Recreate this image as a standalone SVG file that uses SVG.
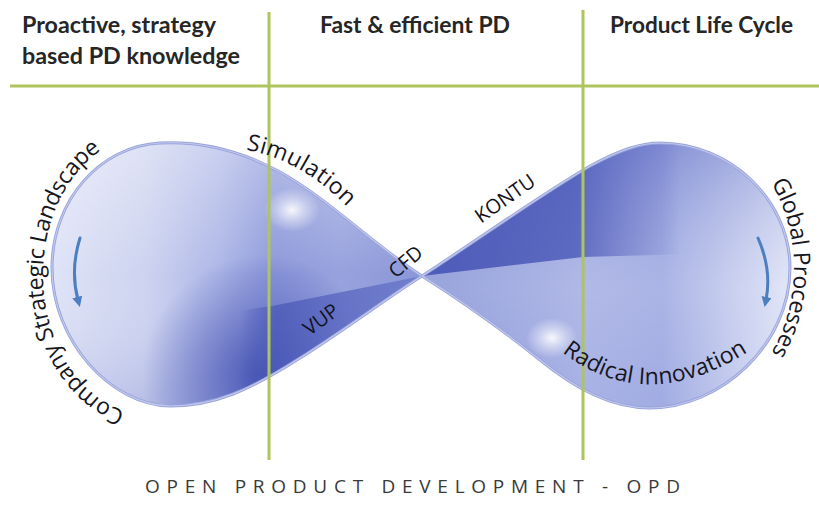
<svg xmlns="http://www.w3.org/2000/svg" width="819" height="508" viewBox="0 0 819 508">
  <defs>
    <style>
      .head { font-family: Lato, "Liberation Sans", sans-serif; font-weight: bold; font-size: 22px; fill: #262626; }
      .lbl { font-family: "Open Sans", "Liberation Sans", sans-serif; font-size: 23px; fill: #16161e; }
      .small { font-family: "Open Sans", "Liberation Sans", sans-serif; font-size: 20px; fill: #12121c; }
      .foot { font-family: "Open Sans", "Liberation Sans", sans-serif; font-size: 19px; fill: #3a3a3a; }
      .grid { stroke: #aec45f; stroke-width: 3; fill: none; }
      .rim { fill: none; stroke: #99a4dd; stroke-width: 3; stroke-linejoin: round; }
      .rimhi { fill: none; stroke: #ffffff; stroke-opacity: 0.4; stroke-width: 1.2; }
      .turn { fill: none; stroke: #4d7ec0; stroke-width: 3; stroke-linecap: round; marker-end: url(#head); }
    </style>
    <marker id="head" viewBox="0 0 10 10" refX="3" refY="5" markerWidth="3.4" markerHeight="3.4" orient="auto">
      <path d="M0 0 L10 5 L0 10 Z" fill="#4d7ec0"/>
    </marker>

    <!-- lobe outlines -->
    <path id="lobeL" d="M 422 276 C 370 242, 330 200, 280 172 C 240 150, 200 141, 160 143 C 100 146, 52 200, 52 268 C 52 340, 110 405, 170 406 C 215 406, 250 390, 300 358 C 340 333, 390 296, 422 276 Z"/>
    <path id="lobeR" d="M 422 276 C 470 245, 540 195, 590 166 C 620 150, 640 143, 660 143 C 730 143, 790 200, 790 268 C 790 345, 720 408, 650 408 C 610 408, 575 388, 540 360 C 500 328, 460 300, 422 276 Z"/>
    <clipPath id="clipL"><use href="#lobeL"/></clipPath>
    <clipPath id="clipR"><use href="#lobeR"/></clipPath>

    <linearGradient id="gL" gradientUnits="userSpaceOnUse" x1="52" y1="0" x2="422" y2="0">
      <stop offset="0" stop-color="#dfe3f7"/>
      <stop offset="0.25" stop-color="#cdd3f0"/>
      <stop offset="0.45" stop-color="#aeb7e7"/>
      <stop offset="0.6" stop-color="#8d99da"/>
      <stop offset="0.78" stop-color="#97a2dd"/>
      <stop offset="1" stop-color="#8a96d7"/>
    </linearGradient>
    <linearGradient id="gLv" gradientUnits="userSpaceOnUse" x1="0" y1="145" x2="0" y2="405">
      <stop offset="0" stop-color="#ffffff" stop-opacity="0.35"/>
      <stop offset="0.5" stop-color="#ffffff" stop-opacity="0"/>
      <stop offset="1" stop-color="#3b48a8" stop-opacity="0.15"/>
    </linearGradient>
    <radialGradient id="gLdark" gradientUnits="userSpaceOnUse" cx="262" cy="375" r="120">
      <stop offset="0" stop-color="#3c4aae" stop-opacity="0.85"/>
      <stop offset="0.5" stop-color="#4452b3" stop-opacity="0.45"/>
      <stop offset="1" stop-color="#4452b3" stop-opacity="0"/>
    </radialGradient>
    <linearGradient id="gVup" gradientUnits="userSpaceOnUse" x1="240" y1="0" x2="422" y2="0">
      <stop offset="0" stop-color="#4452b3" stop-opacity="0"/>
      <stop offset="0.2" stop-color="#4a58b7" stop-opacity="0.75"/>
      <stop offset="1" stop-color="#6d7bcc" stop-opacity="0.85"/>
    </linearGradient>
    <linearGradient id="gR" gradientUnits="userSpaceOnUse" x1="422" y1="0" x2="790" y2="0">
      <stop offset="0" stop-color="#8693d6"/>
      <stop offset="0.45" stop-color="#a3ade3"/>
      <stop offset="0.65" stop-color="#9ca7e1"/>
      <stop offset="1" stop-color="#dde2f6"/>
    </linearGradient>
    <linearGradient id="gRv" gradientUnits="userSpaceOnUse" x1="0" y1="145" x2="0" y2="408">
      <stop offset="0" stop-color="#4b59b9" stop-opacity="0.3"/>
      <stop offset="0.55" stop-color="#ffffff" stop-opacity="0.15"/>
      <stop offset="1" stop-color="#ffffff" stop-opacity="0.05"/>
    </linearGradient>
    <linearGradient id="gKontu" gradientUnits="userSpaceOnUse" x1="422" y1="0" x2="680" y2="0">
      <stop offset="0" stop-color="#4a58b8" stop-opacity="0.95"/>
      <stop offset="0.6" stop-color="#4a58b8" stop-opacity="0.8"/>
      <stop offset="1" stop-color="#4a58b8" stop-opacity="0"/>
    </linearGradient>
    <radialGradient id="shine">
      <stop offset="0" stop-color="#ffffff" stop-opacity="0.9"/>
      <stop offset="0.5" stop-color="#ffffff" stop-opacity="0.4"/>
      <stop offset="1" stop-color="#ffffff" stop-opacity="0"/>
    </radialGradient>

    <!-- label paths -->
    <path id="arcL" d="M 125 411 A 107 140 0 0 1 112 144"/>
    <path id="arcR" d="M 771 183 A 134 152 0 0 1 768 358"/>
    <path id="arcSim" d="M 246 150 Q 305 160 356 216"/>
    <path id="arcRad" d="M 562 352 Q 650 420 758 345"/>
  </defs>

  <rect width="819" height="508" fill="#ffffff"/>

  <!-- column headers -->
  <g id="header-knowledge">
    <text class="head" x="22" y="33" textLength="194" lengthAdjust="spacingAndGlyphs">Proactive, strategy</text>
    <text class="head" x="22" y="64" textLength="218" lengthAdjust="spacingAndGlyphs">based PD knowledge</text>
  </g>
  <g id="header-fast">
    <text class="head" x="320" y="33" textLength="190" lengthAdjust="spacingAndGlyphs">Fast &amp; efficient PD</text>
  </g>
  <g id="header-lifecycle">
    <text class="head" x="610" y="33" textLength="183" lengthAdjust="spacingAndGlyphs">Product Life Cycle</text>
  </g>

  <!-- left loop -->
  <g id="loop-left">
    <use href="#lobeL" fill="url(#gL)"/>
    <g clip-path="url(#clipL)">
      <rect x="40" y="130" width="390" height="290" fill="url(#gLv)"/>
      <rect x="40" y="130" width="390" height="290" fill="url(#gLdark)"/>
      <path d="M 422 276 L 272 306 L 230 312 L 230 420 L 430 420 Z" fill="url(#gVup)"/>
      <ellipse cx="292" cy="210" rx="28" ry="22" fill="url(#shine)"/>
    </g>
    <use href="#lobeL" class="rim"/>
    <use href="#lobeL" class="rimhi"/>
  </g>

  <!-- right loop -->
  <g id="loop-right">
    <use href="#lobeR" fill="url(#gR)"/>
    <g clip-path="url(#clipR)">
      <rect x="415" y="130" width="390" height="290" fill="url(#gRv)"/>
      <path d="M 422 276 L 583 257 L 690 254 L 690 130 L 420 130 Z" fill="url(#gKontu)"/>
      <ellipse cx="552" cy="338" rx="26" ry="20" fill="url(#shine)"/>
    </g>
    <use href="#lobeR" class="rim"/>
    <use href="#lobeR" class="rimhi"/>
  </g>

  <!-- phase dividers -->
  <g id="dividers">
    <line class="grid" x1="10" y1="86" x2="819" y2="86"/>
    <line class="grid" x1="269" y1="12" x2="269" y2="460"/>
    <line class="grid" x1="583" y1="10" x2="583" y2="460"/>
  </g>

  <!-- rotation arrows -->
  <g id="connectors">
    <path class="turn" d="M 80 238 Q 70 270 78 300"/>
    <path class="turn" d="M 758 238 Q 772 270 766 300"/>
  </g>

  <!-- loop labels -->
  <g id="label-company">
    <text class="lbl"><textPath href="#arcL" textLength="312" lengthAdjust="spacing">Company Strategic Landscape</textPath></text>
  </g>
  <g id="label-global">
    <text class="lbl"><textPath href="#arcR" textLength="178" lengthAdjust="spacing">Global Processes</textPath></text>
  </g>
  <g id="label-simulation">
    <text class="lbl"><textPath href="#arcSim" textLength="118" lengthAdjust="spacing">Simulation</textPath></text>
  </g>
  <g id="label-radical">
    <text class="lbl" font-size="22"><textPath href="#arcRad" textLength="200" lengthAdjust="spacing">Radical Innovation</textPath></text>
  </g>
  <g id="label-kontu">
    <text class="small" text-anchor="middle" transform="translate(509 204) rotate(-35)">KONTU</text>
  </g>
  <g id="label-cfd">
    <text class="small" text-anchor="middle" transform="translate(410 267) rotate(-40)">CFD</text>
  </g>
  <g id="label-vup">
    <text class="small" text-anchor="middle" transform="translate(325 325) rotate(-36)">VUP</text>
  </g>

  <!-- title -->
  <g id="title">
    <text class="foot" x="145" y="493" textLength="535" lengthAdjust="spacing">OPEN PRODUCT DEVELOPMENT - OPD</text>
  </g>
</svg>
